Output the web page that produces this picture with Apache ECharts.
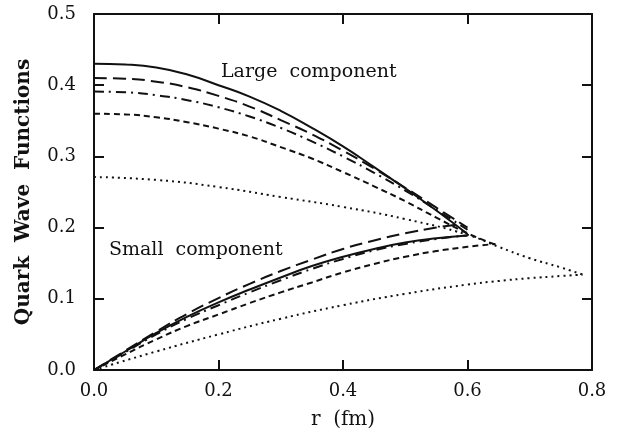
<!DOCTYPE html>
<html>
<head>
<meta charset="utf-8">
<script src="https://cdn.jsdelivr.net/npm/echarts@6/dist/echarts.min.js"></script>
<style>
  html, body { margin: 0; padding: 0; background: #fff; }
  #chart { width: 628px; height: 430px; }
</style>
</head>
<body>
<div id="chart"></div>
<script>
// radius grid (fm)
const rMain = [0, 0.05, 0.1, 0.15, 0.2, 0.25, 0.3, 0.35, 0.4, 0.45, 0.5, 0.55, 0.6]
const rShort = [0, 0.05, 0.1, 0.15, 0.2, 0.25, 0.3, 0.35, 0.4, 0.45, 0.5, 0.55, 0.6, 0.645]
const rDot = [0, 0.1, 0.2, 0.3, 0.4, 0.5, 0.6, 0.65, 0.7, 0.75, 0.785]
const rLongSmall = [0, 0.05, 0.1, 0.15, 0.2, 0.25, 0.3, 0.35, 0.4, 0.45, 0.5, 0.55, 0.59]

// large component
const largeSolid = [0.430, 0.429, 0.425, 0.415, 0.400, 0.384, 0.364, 0.340, 0.314, 0.285, 0.255, 0.224, 0.191]
const largeLongDash = [0.410, 0.409, 0.405, 0.397, 0.385, 0.370, 0.351, 0.331, 0.308, 0.283, 0.256, 0.228, 0.200]
const largeDashDot = [0.391, 0.390, 0.386, 0.379, 0.369, 0.356, 0.340, 0.321, 0.300, 0.277, 0.252, 0.225, 0.197]
const largeShortDash = [0.360, 0.359, 0.355, 0.348, 0.339, 0.328, 0.313, 0.297, 0.278, 0.258, 0.237, 0.214, 0.192, 0.176]
const largeDotted = [0.271, 0.267, 0.257, 0.243, 0.229, 0.212, 0.190, 0.173, 0.157, 0.144, 0.134]

// small component
const smallSolid = [0, 0.026, 0.052, 0.075, 0.095, 0.113, 0.130, 0.146, 0.159, 0.170, 0.179, 0.185, 0.189]
const smallLongDash = [0, 0.027, 0.054, 0.079, 0.101, 0.121, 0.139, 0.155, 0.170, 0.182, 0.192, 0.200, 0.205]
const smallDashDot = [0, 0.025, 0.050, 0.072, 0.091, 0.109, 0.126, 0.142, 0.156, 0.168, 0.177, 0.184, 0.189]
const smallShortDash = [0, 0.022, 0.043, 0.062, 0.078, 0.094, 0.109, 0.123, 0.137, 0.149, 0.159, 0.167, 0.173, 0.177]
const smallDotted = [0, 0.026, 0.050, 0.072, 0.091, 0.107, 0.120, 0.125, 0.129, 0.132, 0.134]

const xTicks = [0, 0.2, 0.4, 0.6, 0.8]
const yTicks = [0, 0.1, 0.2, 0.3, 0.4, 0.5]

// text annotations in data coords [r, value]
const notes = [
  { text: 'Large  component', at: [0.204, 0.4185] },
  { text: 'Small  component', at: [0.024, 0.1685] }
]

const ink = '#111'
const serif = 'DejaVu Serif'

const styles = {
  solid: { type: 'solid', width: 2 },
  longDash: { type: [13, 6], width: 2 },
  dashDot: { type: [10, 5, 2, 5], width: 2 },
  shortDash: { type: [6, 4], width: 2 },
  dotted: { type: [2, 4], width: 2 }
}

const zip = (xs, ys) => xs.map((x, i) => [x, ys[i]])

const makeLine = (name, xs, ys, style) => ({
  name: name,
  type: 'line',
  data: zip(xs, ys),
  smooth: true,
  symbol: 'none',
  silent: true,
  lineStyle: { color: ink, width: style.width, type: style.type }
})

const series = [
  makeLine('L solid', rMain, largeSolid, styles.solid),
  makeLine('L long dash', rMain, largeLongDash, styles.longDash),
  makeLine('L dash dot', rMain, largeDashDot, styles.dashDot),
  makeLine('L short dash', rShort, largeShortDash, styles.shortDash),
  makeLine('L dotted', rDot, largeDotted, styles.dotted),
  makeLine('S solid', rMain, smallSolid, styles.solid),
  makeLine('S long dash', rLongSmall, smallLongDash, styles.longDash),
  makeLine('S dash dot', rMain, smallDashDot, styles.dashDot),
  makeLine('S short dash', rShort, smallShortDash, styles.shortDash),
  makeLine('S dotted', rDot, smallDotted, styles.dotted)
]

const axisLine = { show: true, onZero: false, lineStyle: { color: ink, width: 2 } }
const axisTick = { show: true, inside: true, length: 10, lineStyle: { color: ink, width: 2 } }
const labelStyle = { color: ink, fontFamily: serif, fontSize: 18 }

const chart = echarts.init(document.getElementById('chart'))

const option = {
  animation: false,
  backgroundColor: '#fff',
  grid: { left: 94, right: 36, top: 14, bottom: 60, outerBoundsMode: 'none' },
  xAxis: [
    {
      type: 'value',
      min: xTicks[0],
      max: xTicks[xTicks.length - 1],
      interval: 0.2,
      name: 'r  (fm)',
      nameLocation: 'middle',
      nameGap: 40,
      nameTextStyle: { color: ink, fontFamily: serif, fontSize: 20 },
      axisLine: axisLine,
      axisTick: axisTick,
      splitLine: { show: false },
      axisLabel: Object.assign({ margin: 12, formatter: v => v.toFixed(1) }, labelStyle)
    },
    {
      type: 'value',
      position: 'top',
      min: xTicks[0],
      max: xTicks[xTicks.length - 1],
      interval: 0.2,
      axisLine: axisLine,
      axisTick: axisTick,
      splitLine: { show: false },
      axisLabel: { show: false }
    }
  ],
  yAxis: [
    {
      type: 'value',
      min: yTicks[0],
      max: yTicks[yTicks.length - 1],
      interval: 0.1,
      name: 'Quark  Wave  Functions',
      nameLocation: 'middle',
      nameGap: 60,
      nameTextStyle: { color: ink, fontFamily: serif, fontSize: 20, fontWeight: 'bold' },
      axisLine: axisLine,
      axisTick: axisTick,
      splitLine: { show: false },
      axisLabel: Object.assign({ margin: 18, formatter: v => v.toFixed(1) }, labelStyle)
    },
    {
      type: 'value',
      position: 'right',
      min: yTicks[0],
      max: yTicks[yTicks.length - 1],
      interval: 0.1,
      axisLine: axisLine,
      axisTick: axisTick,
      splitLine: { show: false },
      axisLabel: { show: false }
    }
  ],
  series: series
}

chart.setOption(option)

// place the two annotations from their data coordinates
chart.setOption({
  graphic: notes.map(n => {
    const p = chart.convertToPixel({ xAxisIndex: 0, yAxisIndex: 0 }, n.at)
    return {
      type: 'text',
      x: p[0],
      y: p[1],
      style: {
        text: n.text,
        fill: ink,
        font: '19px "DejaVu Serif"',
        verticalAlign: 'middle'
      }
    }
  })
})
</script>
</body>
</html>
